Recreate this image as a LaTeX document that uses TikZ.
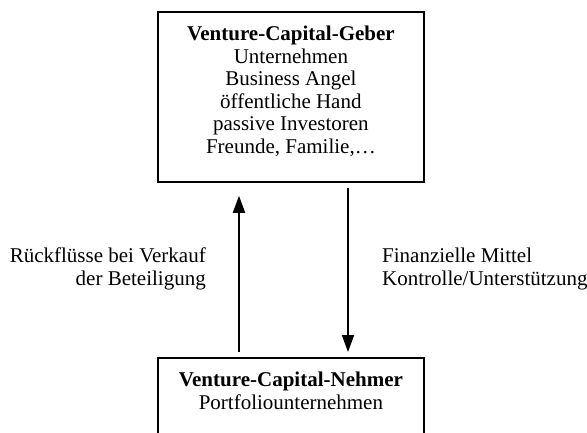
\documentclass[tikz,border=0pt]{standalone}
\usepackage{fontspec}
\setmainfont{Liberation Serif}
\usetikzlibrary{arrows.meta, positioning, calc}

\begin{document}
\begin{tikzpicture}[x=1pt, y=-1pt, line width=1.8pt,
        kasten/.style={draw, minimum width=266pt, inner sep=0pt},
        pfeil/.style={-{Triangle[length=17pt, width=12pt]}},
        every node/.style={font=\fontsize{21}{22.6}\selectfont}]
        \useasboundingbox (0,0) rectangle (587,432);
        \clip (0,0) rectangle (587,432);

        \node[kasten, minimum height=170pt, anchor=north west] (geber) at (157,11) {};
        \node[below=14pt of geber.north, inner sep=0pt, align=center] (gebertext)
            {\textbf{Venture-Capital-Geber}\\Unternehmen\\Business Angel\\öffentliche Hand\\passive Investoren\\Freunde, Familie,…};
        \node[kasten, minimum height=90pt, anchor=north west] (nehmer) at (157,357) {};
        \node[below=14pt of nehmer.north, inner sep=0pt, align=center] (nehmertext)
            {\textbf{Venture-Capital-Nehmer}\\Portfoliounternehmen};

        \draw[pfeil, shorten <=5pt, shorten >=13pt] ([xshift=82pt]nehmer.north west) -- ([xshift=82pt]geber.south west);
        \draw[pfeil, shorten <=5pt, shorten >=5pt] ([xshift=191pt]geber.south west) -- ([xshift=191pt]nehmer.north west);

        \node[anchor=east, align=right] (rueckfluss) at (210,269) {Rückflüsse bei Verkauf\\der Beteiligung};
        \node[anchor=west, align=left] (mittel) at (378,269) {Finanzielle Mittel\\Kontrolle/Unterstützung};
    \end{tikzpicture}
\end{document}
